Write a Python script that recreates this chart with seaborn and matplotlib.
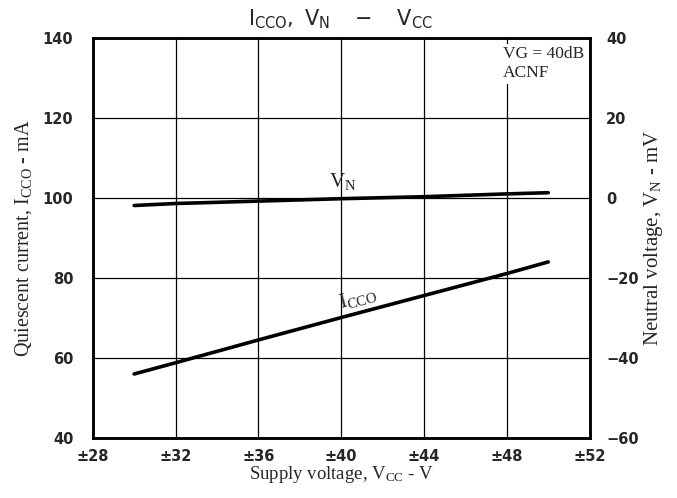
import matplotlib
matplotlib.use("Agg")
import matplotlib.pyplot as plt
import seaborn as sns
import pandas as pd

# Data
vcc = [30, 32, 36, 40, 44, 48, 50]
icco_ma = [56.0, 58.8, 64.5, 70.1, 75.6, 81.1, 84.0]
vn_mv = [-1.9, -1.4, -0.8, -0.2, 0.3, 1.0, 1.3]

x_ticks = [28, 32, 36, 40, 44, 48, 52]
x_ticklabels = ["±28", "±32", "±36", "±40", "±44", "±48", "±52"]
left_ticks = [40, 60, 80, 100, 120, 140]
right_ticks = [-60, -40, -20, 0, 20, 40]

df = pd.DataFrame({"vcc": vcc, "icco": icco_ma, "vn": vn_mv})

sns.set_style("white")
plt.rcParams["font.family"] = ["DejaVu Sans"]

fig = plt.figure(figsize=(6.77, 4.98), dpi=100)
ax = fig.add_axes([0.137, 0.1205, 0.734, 0.8035])
ax2 = ax.twinx()

sns.lineplot(data=df, x="vcc", y="icco", ax=ax, color="black", linewidth=2.6)
sns.lineplot(data=df, x="vcc", y="vn", ax=ax2, color="black", linewidth=2.6)

ax.set_xlim(28, 52)
ax.set_ylim(40, 140)
ax2.set_ylim(-60, 40)

ax.set_xticks(x_ticks)
ax.set_xticklabels(x_ticklabels)
ax.set_yticks(left_ticks)
ax2.set_yticks(right_ticks)
ax2.set_yticklabels([str(t).replace("-", "\u2212") for t in right_ticks])

ax.grid(True, color="black", linewidth=0.9)
ax.set_axisbelow(True)
ax2.grid(False)

for a in (ax, ax2):
    a.tick_params(length=0, labelsize=10.5)
    for s in a.spines.values():
        s.set_color("black")
        s.set_linewidth(1.8)
ax.tick_params(axis="x", pad=8)
ax.tick_params(axis="y", pad=14)
ax2.tick_params(axis="y", pad=12)
for lbl in ax.get_xticklabels() + ax.get_yticklabels() + ax2.get_yticklabels():
    lbl.set_fontweight("bold")

serif = ["Liberation Serif", "DejaVu Serif"]
ax.set_xlabel(r"Supply voltage, $\mathregular{V_{CC}}$ - V", family=serif, fontsize=13.5, labelpad=0)
ax.set_ylabel(r"Quiescent current, $\mathregular{I_{CCO}}$ - mA", family=serif, fontsize=14.5, labelpad=6)
ax2.set_ylabel(r"Neutral voltage, $\mathregular{V_{N}}$ - mV", family=serif, fontsize=15, labelpad=2)

fig.text(0.503, 0.962, r"$\mathregular{I_{CCO},\ V_N\ \ \ -\ \ \ V_{CC}}$", ha="center", va="center", fontsize=15)

ax.text(47.8, 138.0, "VG = 40dB\nACNF", ha="left", va="top", family=serif, fontsize=12.5,
        linespacing=1.3, bbox=dict(facecolor="white", edgecolor="none", pad=1.5), zorder=5)

ax.text(40.05, 104.0, r"$\mathregular{V_N}$", ha="center", va="center", family=serif, fontsize=15)
ax.text(40.8, 75.0, r"$\mathregular{I_{CCO}}$", ha="center", va="center", family=serif, fontsize=15, rotation=15)

fig.savefig("out.png", dpi=100)
